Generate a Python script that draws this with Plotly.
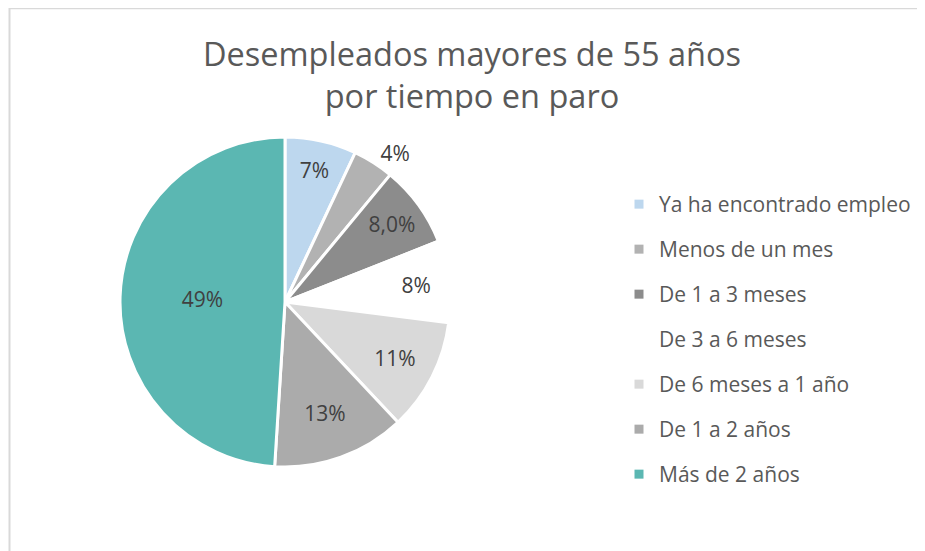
import plotly.graph_objects as go

# The page body adds an 8px margin, so the figure is 8px smaller and all
# pixel positions below are given in page coordinates minus that offset.
OFF = 8
W, H = 925 - OFF, 551 - OFF

labels = ["Ya ha encontrado empleo", "Menos de un mes", "De 1 a 3 meses",
          "De 3 a 6 meses", "De 6 meses a 1 año", "De 1 a 2 años", "Más de 2 años"]
values = [7, 4, 8.0, 8, 11, 13, 49]
colors = ["#BDD7EE", "#B2B2B2", "#8C8C8C", "#FFFFFF", "#D9D9D9", "#ABABAB", "#5BB7B2"]
text_pos = ["inside", "outside", "inside", "inside", "inside", "inside", "inside"]
text_fmt = ["%{percent:.0%}", "%{percent:.0%}", "%{percent:.1%}", "%{percent:.0%}",
            "%{percent:.0%}", "%{percent:.0%}", "%{percent:.0%}"]
title_text = "Desempleados mayores de 55 años<br>por tiempo en paro"

FONT = "Open Sans"

def px_x(x):
    return (x - OFF) / W

def px_y(y):
    return 1 - (y - OFF) / H

fig = go.Figure()

fig.add_trace(go.Pie(
    labels=labels,
    values=values,
    sort=False,
    direction="clockwise",
    rotation=0,
    marker=dict(colors=colors, line=dict(color="#FFFFFF", width=3)),
    texttemplate=text_fmt,
    textposition=text_pos,
    insidetextorientation="horizontal",
    textfont=dict(family=FONT, size=21, color="#404040"),
    showlegend=False,
    hoverinfo="label+percent",
    domain=dict(x=[px_x(120), px_x(450)], y=[px_y(468), px_y(136)]),
))

for lab, col in zip(labels, colors):
    fig.add_trace(go.Scatter(
        x=[None], y=[None], mode="markers", name=lab, legendgroup=lab,
        marker=dict(symbol="square", size=9, color=col, line=dict(width=0)),
        showlegend=True, hoverinfo="skip",
    ))

fig.update_layout(
    width=W, height=H,
    margin=dict(l=0, r=0, t=0, b=0),
    paper_bgcolor="#FFFFFF",
    plot_bgcolor="#FFFFFF",
    separators=",.",
    xaxis=dict(visible=False),
    yaxis=dict(visible=False),
    title=dict(text=title_text, x=px_x(472), xanchor="center",
               y=px_y(66), yanchor="top",
               font=dict(family=FONT, size=32.5, color="#595959")),
    legend=dict(x=px_x(619), xanchor="left", y=px_y(184), yanchor="top",
                font=dict(family=FONT, size=21, color="#595959"),
                tracegroupgap=14.7, bgcolor="rgba(0,0,0,0)", itemclick=False),
    shapes=[dict(type="rect", xref="paper", yref="paper",
                 x0=px_x(9.5), x1=1.05, y0=-0.05, y1=px_y(8.2),
                 line=dict(color="#D9D9D9", width=2), fillcolor="rgba(0,0,0,0)",
                 layer="below")],
)

fig.write_html("out.html")
